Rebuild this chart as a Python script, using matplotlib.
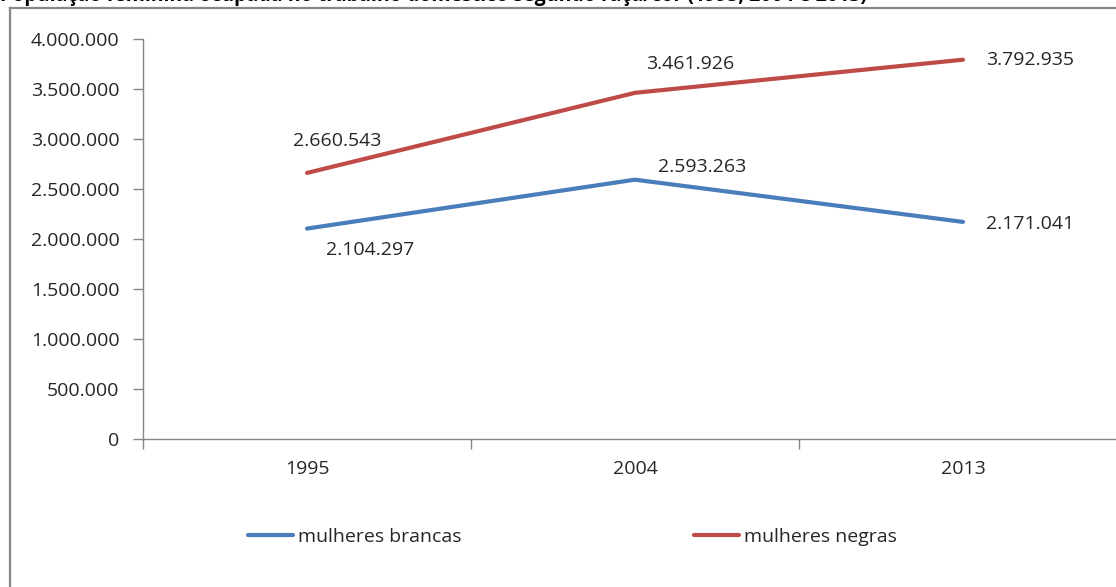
import matplotlib.pyplot as plt
from matplotlib.lines import Line2D
from matplotlib.ticker import FuncFormatter, FixedLocator

plt.rcParams["font.family"] = ["Open Sans", "DejaVu Sans"]

# Série histórica por raça/cor
anos = ["1995", "2004", "2013"]
brancas = [2104297, 2593263, 2171041]
negras = [2660543, 3461926, 3792935]
series_labels = ["mulheres brancas", "mulheres negras"]

BLUE = "#4A7EBB"
RED = "#BE4B48"
GRAY = "#868686"
TEXT = "#262626"
FS = 14

W, H = 1116, 587
fig = plt.figure(figsize=(W / 100, H / 100), dpi=100)

# Plot area in pixel geometry of the page
ax = fig.add_axes([143 / W, (H - 439) / H, (1127 - 143) / W, 400 / H])

x = [i + 0.5 for i in range(len(anos))]
l1, = ax.plot(x, brancas, color=BLUE, linewidth=3, solid_capstyle="round")
l2, = ax.plot(x, negras, color=RED, linewidth=3, solid_capstyle="round")

ax.set_xlim(0, 3)
ax.set_ylim(0, 4000000)
ax.set_yticks(range(0, 4000001, 500000))
ax.yaxis.set_major_formatter(FuncFormatter(lambda v, p: f"{int(v):,}".replace(",", ".")))

ax.xaxis.set_major_locator(FixedLocator(x))
ax.set_xticklabels(anos)
ax.xaxis.set_minor_locator(FixedLocator([0, 1, 2, 3]))
ax.tick_params(axis="x", which="major", length=0, pad=15, labelsize=FS, labelcolor=TEXT)
ax.tick_params(axis="x", which="minor", length=7, color=GRAY, width=1)
ax.tick_params(axis="y", length=7, color=GRAY, width=1, labelsize=FS, labelcolor=TEXT, pad=10)

for side in ["top", "right"]:
    ax.spines[side].set_visible(False)
for side in ["left", "bottom"]:
    ax.spines[side].set_color(GRAY)
    ax.spines[side].set_linewidth(1)


def fmt(v):
    return f"{v:,}".replace(",", ".")


# Data labels (offsets in pixels)
offs_brancas = [(63, -21), (67, 13), (67, -2)]
offs_negras = [(30, 32), (55, 29), (67, 0)]
for xi, v, (dx, dy) in zip(x, brancas, offs_brancas):
    ax.annotate(fmt(v), (xi, v), xytext=(dx, dy), textcoords="offset pixels",
                ha="center", va="center", fontsize=FS, color=TEXT)
for xi, v, (dx, dy) in zip(x, negras, offs_negras):
    ax.annotate(fmt(v), (xi, v), xytext=(dx, dy), textcoords="offset pixels",
                ha="center", va="center", fontsize=FS, color=TEXT)

fig.legend([l1, l2], series_labels, loc="center left",
           bbox_to_anchor=(248 / W, 1 - 537 / H), ncol=2, frameon=False,
           fontsize=FS, handlelength=2.3, handletextpad=0.25, columnspacing=12.0,
           borderpad=0, borderaxespad=0, labelcolor=TEXT)

# Chart frame
fig.add_artist(Line2D([10 / W, 10 / W], [0, 1 - 8 / H], color=GRAY, linewidth=1.6,
                      transform=fig.transFigure))
fig.add_artist(Line2D([10 / W, 1], [1 - 8 / H, 1 - 8 / H], color=GRAY, linewidth=1.6,
                      transform=fig.transFigure))

# Title sits above the frame, partly off the page
fig.text(0.0, 1 - 1.5 / H,
         "População feminina ocupada no trabalho doméstico segundo raça/cor (1995, 2004 e 2013)",
         ha="left", va="baseline", fontsize=14, fontweight="bold", color="black")

fig.savefig("out.png", dpi=100)
